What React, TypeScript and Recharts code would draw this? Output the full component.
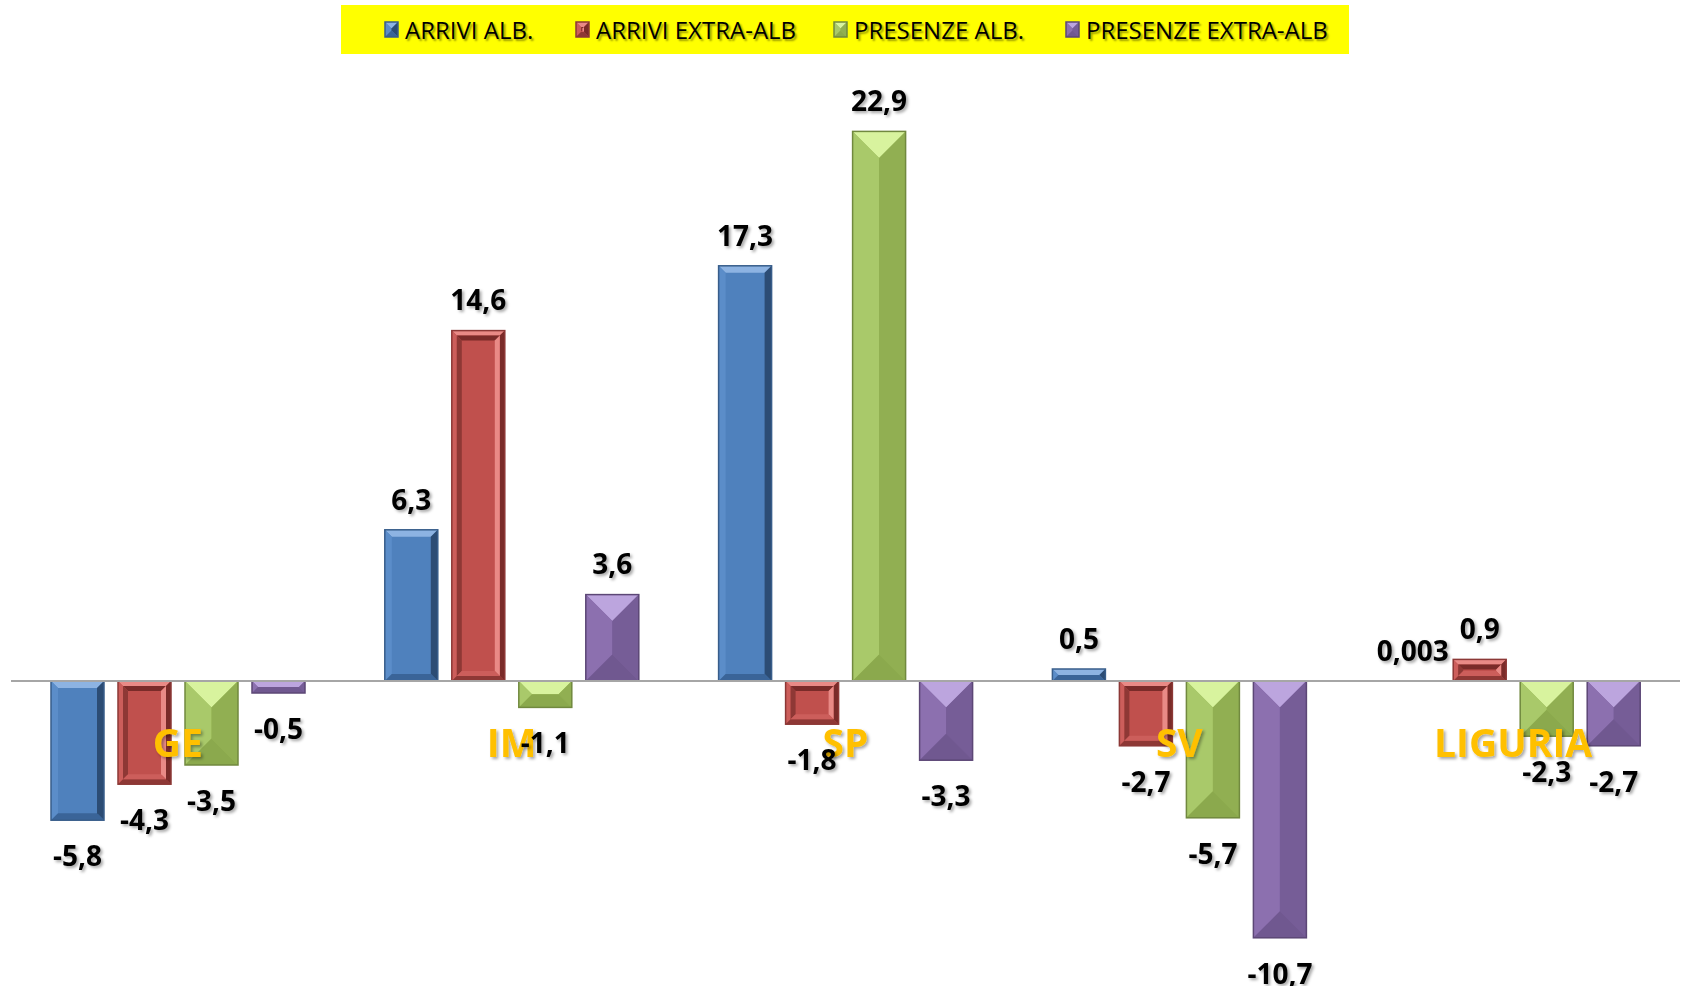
import React from 'react';
import {
  BarChart,
  Bar,
  XAxis,
  YAxis,
  ReferenceLine,
  ReferenceDot,
  LabelList,
  Legend,
} from 'recharts';

// data
const categories = ['GE', 'IM', 'SP', 'SV', 'LIGURIA'];
const arriviAlb = [-5.8, 6.3, 17.3, 0.5, 0.003];
const arriviExtraAlb = [-4.3, 14.6, -1.8, -2.7, 0.9];
const presenzeAlb = [-3.5, -1.1, 22.9, -5.7, -2.3];
const presenzeExtraAlb = [-0.5, 3.6, -3.3, -10.7, -2.7];
const seriesNames = ['ARRIVI ALB.', 'ARRIVI EXTRA-ALB', 'PRESENZE ALB.', 'PRESENZE EXTRA-ALB'];

const data = categories.map((name, i) => ({
  name,
  arriviAlb: arriviAlb[i],
  arriviExtraAlb: arriviExtraAlb[i],
  presenzeAlb: presenzeAlb[i],
  presenzeExtraAlb: presenzeExtraAlb[i],
}));

interface Palette {
  base: string;
  top: string;
  left: string;
  right: string;
  bottom: string;
  stroke: string;
  kind: 'soft' | 'frame' | 'angle';
}

const palettes: Record<string, Palette> = {
  arriviAlb: {
    base: '#4F81BD', top: '#8DB3E2', left: '#5B8DC9', right: '#2C4C74',
    bottom: '#3A6498', stroke: '#385D8A', kind: 'soft',
  },
  arriviExtraAlb: {
    base: '#C0504D', top: '#E98A86', left: '#CC5E5B', right: '#7A2B29',
    bottom: '#8E3835', stroke: '#8C3836', kind: 'frame',
  },
  presenzeAlb: {
    base: '#9BBB59', top: '#D8F39E', left: '#A9C96A', right: '#91AF52',
    bottom: '#8BA94D', stroke: '#71893F', kind: 'angle',
  },
  presenzeExtraAlb: {
    base: '#8064A2', top: '#BCA5DE', left: '#8C70AF', right: '#765D97',
    bottom: '#705890', stroke: '#5C4776', kind: 'angle',
  },
};
const seriesKeys = ['arriviAlb', 'arriviExtraAlb', 'presenzeAlb', 'presenzeExtraAlb'];

const CAT_LABEL_Y = -2.6; // where the province names sit, in value units
const LABEL_FONT = '"Open Sans", "DejaVu Sans", sans-serif';

const pts = (a: number[][]) => a.map((p) => p.join(',')).join(' ');

function bevelParts(x: number, y: number, w: number, h: number, b: number, c: string[]) {
  // c = [top, left, right, bottom]
  return [
    <polygon key="t" points={pts([[x, y], [x + w, y], [x + w - b, y + b], [x + b, y + b]])} fill={c[0]} />,
    <polygon key="l" points={pts([[x, y], [x + b, y + b], [x + b, y + h - b], [x, y + h]])} fill={c[1]} />,
    <polygon key="r" points={pts([[x + w, y], [x + w, y + h], [x + w - b, y + h - b], [x + w - b, y + b]])} fill={c[2]} />,
    <polygon key="b" points={pts([[x, y + h], [x + b, y + h - b], [x + w - b, y + h - b], [x + w, y + h]])} fill={c[3]} />,
  ];
}

function drawBevelBar(x0: number, y0: number, w: number, h0: number, p: Palette) {
  const y = Math.min(y0, y0 + h0);
  const h = Math.abs(h0);
  const x = x0;
  if (w <= 0 || h <= 0.01) return <g />;
  const b = p.kind === 'angle' ? Math.min(w / 2, h / 2) : Math.min(p.kind === 'frame' ? 5 : 7, w / 2, h / 2);
  const outer = bevelParts(x, y, w, h, b, [p.top, p.left, p.right, p.bottom]);
  let inner: React.ReactNode = null;
  if (p.kind === 'frame' && w > 2 * b && h > 2 * b) {
    const b2 = Math.min(5, (w - 2 * b) / 2, (h - 2 * b) / 2);
    inner = bevelParts(x + b, y + b, w - 2 * b, h - 2 * b, b2, [p.right, p.bottom, p.top, p.left]);
  }
  return (
    <g>
      <rect x={x} y={y} width={w} height={h} fill={p.base} />
      {outer}
      {inner}
      <rect x={x} y={y} width={w} height={h} fill="none" stroke={p.stroke} strokeWidth={1.5} />
    </g>
  );
}

const makeShape = (key: string) => (props: any) =>
  drawBevelBar(props.x, props.y, props.width, props.height, palettes[key]);

const fmt = (v: number) => String(v).replace('.', ',');

const renderValue = (props: any) => {
  const { x, y, width, height, value } = props;
  const cx = x + width / 2;
  const top = Math.min(y, y + height);
  const bottom = Math.max(y, y + height);
  const ty = value >= 0 ? top - 30 : bottom + 36;
  return (
    <text
      x={cx}
      y={ty}
      dy="0.35em"
      textAnchor="middle"
      fontFamily={LABEL_FONT}
      fontWeight={700}
      fontSize={28}
      fill="#000"
      filter="url(#txtShadow)"
    >
      {fmt(value)}
    </text>
  );
};

const renderCategory = (name: string) => (props: any) => (
  <text
    x={props.cx}
    y={props.cy}
    dy="0.35em"
    textAnchor="middle"
    fontFamily={LABEL_FONT}
    fontWeight={700}
    fontSize={39}
    fill="#FFC000"
    filter="url(#txtShadow)"
  >
    {name}
  </text>
);

const legendItemWidths = [191, 258, 232, 260];

const renderLegend = (props: any) => {
  const payload = props.payload || [];
  return (
    <div
      style={{
        display: 'flex',
        alignItems: 'center',
        height: '100%',
        paddingLeft: 44,
        boxSizing: 'border-box',
        background: '#FFFF00',
      }}
    >
      {payload.map((entry: any, i: number) => (
        <div
          key={entry.value}
          style={{ display: 'flex', alignItems: 'center', width: legendItemWidths[i] }}
        >
          <svg width={13} height={15} style={{ overflow: 'visible' }}>
            {drawBevelBar(0, 0, 13, 15, palettes[entry.dataKey])}
          </svg>
          <span
            style={{
              marginLeft: 7,
              fontFamily: LABEL_FONT,
              fontSize: 24,
              color: '#000',
              whiteSpace: 'nowrap',
              textShadow: '2px 2px 2px rgba(0,0,0,0.4)',
            }}
          >
            {entry.value}
          </span>
        </div>
      ))}
    </div>
  );
};

export default function App() {
  return (
    <div
      style={{
        position: 'absolute',
        left: 0,
        top: 0,
        width: 1683,
        height: 986,
        background: '#fff',
        overflow: 'hidden',
      }}
    >
      <svg width={0} height={0} style={{ position: 'absolute' }}>
        <defs>
          <filter id="txtShadow" x="-20%" y="-20%" width="150%" height="160%">
            <feDropShadow dx={2} dy={2} stdDeviation={1.5} floodColor="#000" floodOpacity={0.35} />
          </filter>
        </defs>
      </svg>
      <BarChart
        width={1683}
        height={986}
        data={data}
        margin={{ top: 81, right: 3, bottom: 17, left: 11 }}
        barGap={14}
        barSize={53}
      >
        <XAxis dataKey="name" hide />
        <YAxis hide domain={[-12, 25]} type="number" allowDataOverflow />
        <ReferenceLine y={0} stroke="#A6A6A6" strokeWidth={2} />
        <Legend
          layout="vertical"
          align="center"
          verticalAlign="middle"
          wrapperStyle={{ top: 5, left: 341, width: 1008, height: 49 }}
          content={renderLegend}
        />
        {seriesKeys.map((key, i) => (
          <Bar
            key={key}
            dataKey={key}
            name={seriesNames[i]}
            fill={palettes[key].base}
            shape={makeShape(key)}
            isAnimationActive={false}
          >
            <LabelList dataKey={key} content={renderValue} />
          </Bar>
        ))}
        {categories.map((c) => (
          <ReferenceDot
            key={c}
            x={c}
            y={CAT_LABEL_Y}
            r={0}
            ifOverflow="visible"
            shape={renderCategory(c)}
          />
        ))}
      </BarChart>
    </div>
  );
}
